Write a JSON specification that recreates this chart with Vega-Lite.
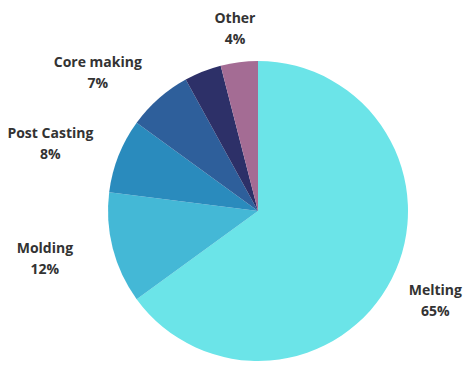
{
  "$schema": "https://vega.github.io/schema/vega-lite/v6.json",
  "autosize": {"type": "none"},
  "width": 424,
  "height": 312,
  "padding": {"left": 46, "top": 55, "right": 1, "bottom": 0},
  "background": "white",
  "config": {"view": {"stroke": null}},
  "data": {
    "values": [
      {"rank": 1, "category": "Melting", "share": 0.65},
      {"rank": 2, "category": "Molding", "share": 0.12},
      {"rank": 3, "category": "Post Casting", "share": 0.08},
      {"rank": 4, "category": "Core making", "share": 0.07},
      {"rank": 5, "category": "(unlabeled)", "share": 0.04},
      {"rank": 6, "category": "Other", "share": 0.04}
    ]
  },
  "transform": [
    {"stack": "share", "groupby": [], "sort": [{"field": "rank", "order": "ascending"}], "as": ["s0", "s1"]},
    {"calculate": "(datum.s0 + datum.s1) / 2", "as": "smid"},
    {"calculate": "[datum.category, format(datum.share, '.0%')]", "as": "lbl"}
  ],
  "layer": [
    {
      "mark": {"type": "arc", "outerRadius": 150},
      "encoding": {
        "theta": {"field": "s0", "type": "quantitative", "scale": {"domain": [0, 1]}},
        "theta2": {"field": "s1"},
        "color": {
          "field": "category",
          "type": "nominal",
          "legend": null,
          "scale": {
            "domain": ["Melting", "Molding", "Post Casting", "Core making", "(unlabeled)", "Other"],
            "range": ["#6be4e8", "#44b8d6", "#2a8bbd", "#2e5f9b", "#2d3068", "#a46c94"]
          }
        }
      }
    },
    {
      "transform": [{"filter": "datum.category === 'Other'"}],
      "mark": {"type": "text", "radius": 184, "dy": -9, "font": "Open Sans", "fontWeight": "bold", "fontSize": 14, "fill": "#333333", "lineHeight": 21, "baseline": "middle", "align": "center"},
      "encoding": {"theta": {"field": "smid", "type": "quantitative", "scale": {"domain": [0, 1]}}, "text": {"field": "lbl"}}
    },
    {
      "transform": [{"filter": "datum.category === 'Melting'"}],
      "mark": {"type": "text", "radius": 199, "dy": -10, "font": "Open Sans", "fontWeight": "bold", "fontSize": 14, "fill": "#333333", "lineHeight": 21, "baseline": "middle", "align": "center"},
      "encoding": {"theta": {"field": "smid", "type": "quantitative", "scale": {"domain": [0, 1]}}, "text": {"field": "lbl"}}
    },
    {
      "transform": [{"filter": "datum.category === 'Molding'"}],
      "mark": {"type": "text", "radius": 219, "dx": -1, "dy": -16, "font": "Open Sans", "fontWeight": "bold", "fontSize": 14, "fill": "#333333", "lineHeight": 21, "baseline": "middle", "align": "center"},
      "encoding": {"theta": {"field": "smid", "type": "quantitative", "scale": {"domain": [0, 1]}}, "text": {"field": "lbl"}}
    },
    {
      "transform": [{"filter": "datum.category === 'Post Casting'"}],
      "mark": {"type": "text", "radius": 219, "dx": -4, "dy": 4, "font": "Open Sans", "fontWeight": "bold", "fontSize": 14, "fill": "#333333", "lineHeight": 21, "baseline": "middle", "align": "center"},
      "encoding": {"theta": {"field": "smid", "type": "quantitative", "scale": {"domain": [0, 1]}}, "text": {"field": "lbl"}}
    },
    {
      "transform": [{"filter": "datum.category === 'Core making'"}],
      "mark": {"type": "text", "radius": 212, "dx": -20, "dy": 11, "font": "Open Sans", "fontWeight": "bold", "fontSize": 14, "fill": "#333333", "lineHeight": 21, "baseline": "middle", "align": "center"},
      "encoding": {"theta": {"field": "smid", "type": "quantitative", "scale": {"domain": [0, 1]}}, "text": {"field": "lbl"}}
    }
  ]
}
